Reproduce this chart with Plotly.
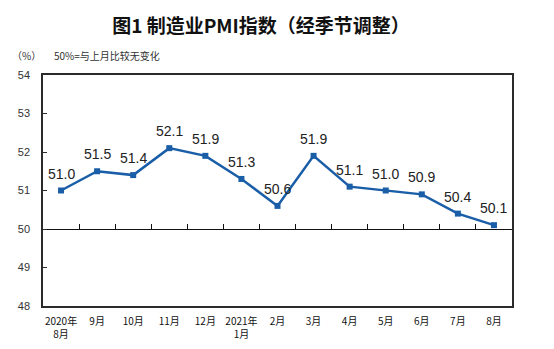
import plotly.graph_objects as go

months = ["2020年<br>8月", "9月", "10月", "11月", "12月", "2021年<br>1月", "2月",
          "3月", "4月", "5月", "6月", "7月", "8月"]
pmi = [51.0, 51.5, 51.4, 52.1, 51.9, 51.3, 50.6, 51.9, 51.1, 51.0, 50.9, 50.4, 50.1]
y_ticks = [48, 49, 50, 51, 52, 53, 54]
baseline = 50

line_color = "#1A5EA8"
frame_color = "#2b2b2b"
font_main = "Liberation Sans, Arial, Noto Sans CJK SC, sans-serif"
font_cjk = "Noto Sans CJK SC, sans-serif"

fig = go.Figure()
fig.add_trace(go.Scatter(
    x=months, y=pmi, mode="lines+markers",
    line=dict(color=line_color, width=2.5),
    marker=dict(symbol="square", size=6, color=line_color),
    hoverinfo="skip", showlegend=False,
))
# invisible trace to carry the baseline axis (ticks at the 50 line)
fig.add_trace(go.Scatter(
    x=months, y=pmi, xaxis="x2", mode="markers",
    marker=dict(opacity=0), hoverinfo="skip", showlegend=False,
))

for m, v in zip(months, pmi):
    fig.add_annotation(x=m, y=v, text=f"{v:.1f}", showarrow=False,
                       yshift=17, font=dict(size=14, color="#222222", family=font_main))

ymin, ymax = min(y_ticks), max(y_ticks)

fig.update_layout(
    width=554, height=349,
    margin=dict(l=43, r=42, t=75, b=43),
    paper_bgcolor="white", plot_bgcolor="white",
    font=dict(family=font_cjk, color="#222222"),
    title=dict(text="<b>图1 制造业PMI指数（经季节调整）</b>",
               font=dict(size=19, color="#111111", family=font_cjk),
               x=261 / 554, xanchor="center", y=1 - 26 / 349, yanchor="middle"),
    xaxis=dict(type="category", categoryorder="array", categoryarray=months,
               range=[-0.5, len(months) - 0.5], automargin=False,
               showline=True, linecolor=frame_color, linewidth=1.5, mirror=True,
               ticks="", showgrid=False, zeroline=False,
               tickfont=dict(size=10, color="#111111", family=font_cjk),
               ticklabelstandoff=5),
    xaxis2=dict(type="category", categoryorder="array", categoryarray=months,
                range=[-0.5, len(months) - 0.5], automargin=False,
                overlaying="x", anchor="free",
                position=(baseline - ymin) / (ymax - ymin),
                showline=True, linecolor="#111111", linewidth=1,
                ticks="inside", tickson="boundaries", ticklen=5, tickwidth=1,
                tickcolor="#111111",
                showticklabels=False, showgrid=False, zeroline=False),
    yaxis=dict(range=[ymin, ymax], tickvals=y_ticks, automargin=False,
               showline=True, linecolor=frame_color, linewidth=1.5, mirror=True,
               ticks="inside", ticklen=4, tickcolor=frame_color,
               showgrid=False, zeroline=False,
               tickfont=dict(size=11, color="#333333", family=font_main),
               ticklabelstandoff=9),
)

fig.add_annotation(xref="paper", yref="paper", x=-0.07, y=1.085, xanchor="left",
                   yanchor="middle", showarrow=False, text="（%）",
                   font=dict(size=10, color="#333333", family=font_cjk))
fig.add_annotation(xref="paper", yref="paper", x=0.02, y=1.085, xanchor="left",
                   yanchor="middle", showarrow=False, text="50%=与上月比较无变化",
                   font=dict(size=10, color="#333333", family=font_cjk))

fig.write_html("out.html")
